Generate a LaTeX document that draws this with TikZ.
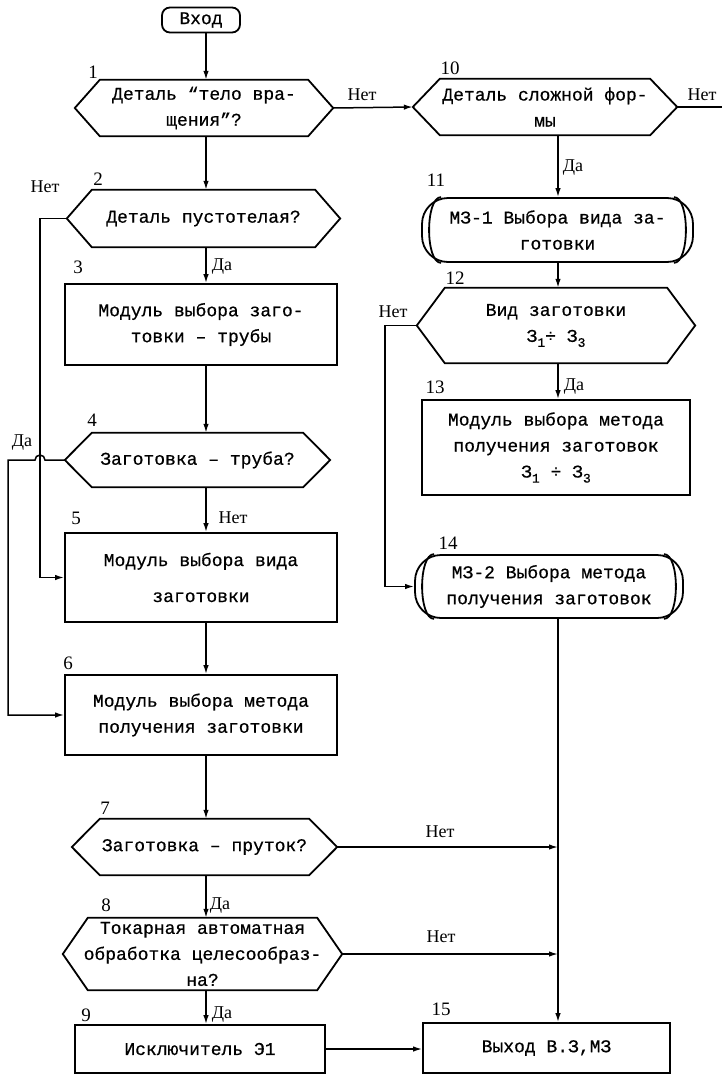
\documentclass[tikz,border=0pt]{standalone}
\usepackage{fontspec}
\setmainfont{Liberation Mono}[FakeBold=0.6]
\newfontfamily\lblfont{Liberation Serif}
\usetikzlibrary{arrows.meta}
\newcommand\bodysize{\fontsize{18}{26}\selectfont}
% lowered index after a letter
\newcommand\idx[1]{\raisebox{-5pt}{\fontsize{13}{13}\selectfont #1}}
% hexagonal decision outline around a named node
\newcommand\hexoutline[2]{%
  \draw[outline] (#1.west) -- ([xshift=#2]#1.north west) -- ([xshift=-#2]#1.north east)
    -- (#1.east) -- ([xshift=-#2]#1.south east) -- ([xshift=#2]#1.south west) -- cycle;}
% second inner side arcs of a module box
\newcommand\mzinner[1]{%
  \draw[outline] ([xshift=20pt]#1.north west) .. controls ([xshift=4pt]#1.north west) and ([xshift=4pt]#1.south west) .. ([xshift=20pt]#1.south west);
  \draw[outline] ([xshift=-20pt]#1.north east) .. controls ([xshift=-4pt]#1.north east) and ([xshift=-4pt]#1.south east) .. ([xshift=-20pt]#1.south east);}
\begin{document}
\begin{tikzpicture}[x=1pt,y=-1pt,
  outline/.style={line width=1.8pt},
  block/.style={draw, outline, rectangle, align=center, inner sep=0pt, font=\bodysize},
  decision/.style={rectangle, align=center, inner sep=0pt, font=\bodysize},
  term/.style={block, rounded corners=8pt},
  mzbox/.style={block, rounded corners=26pt},
  num/.style={inner sep=0pt, font=\lblfont\fontsize{19}{19}\selectfont},
  ans/.style={inner sep=0pt, font=\lblfont\fontsize{18}{18}\selectfont},
  conn/.style={line width=1.5pt, -{Latex[length=9pt,width=5.5pt]}},
  wire/.style={line width=1.5pt}]
\useasboundingbox (0,0) rectangle (726,1079);

% spines and side buses
\coordinate (sL) at (206,0);
\coordinate (sR) at (558,0);
\coordinate (busA) at (40,0);
\coordinate (busB) at (8,0);
\coordinate (busC) at (385,0);

% left column
\node[term, minimum width=78pt, minimum height=25pt] (entry) at (201,20) {Вход};
\node[decision, minimum width=258pt, minimum height=56pt] (n1) at (204,108) {Деталь “тело вра-\\щения”?};
\hexoutline{n1}{25pt}
\node[decision, minimum width=273pt, minimum height=57pt] (n2) at (203.5,218.5) {Деталь пустотелая?};
\hexoutline{n2}{25pt}
\node[block, minimum width=272pt, minimum height=81pt] (n3) at (201,324.5) {Модуль выбора заго-\\товки – трубы};
\node[decision, minimum width=265pt, minimum height=54pt] (n4) at (197.5,460) {Заготовка – труба?};
\hexoutline{n4}{27pt}
\node[block, minimum width=272pt, minimum height=89pt] (n5) at (201,577.5) {Модуль выбора вида\\[10pt]заготовки};
\node[block, minimum width=272pt, minimum height=80pt] (n6) at (201,715) {Модуль выбора метода\\получения заготовки};
\node[decision, minimum width=265pt, minimum height=56pt] (n7) at (204.5,847) {Заготовка – пруток?};
\hexoutline{n7}{28pt}
\node[decision, minimum width=279pt, minimum height=72pt] (n8) at (202.5,954) {Токарная автоматная\\обработка целесообраз-\\на?};
\hexoutline{n8}{25pt}
\node[block, minimum width=250pt, minimum height=48pt] (n9) at (200,1049) {Исключитель Э1};

% right column
\node[decision, minimum width=264pt, minimum height=56pt] (n10) at (545,107) {Деталь сложной фор-\\мы};
\hexoutline{n10}{27pt}
\node[mzbox, minimum width=271pt, minimum height=64pt] (n11) at (557.5,230) {МЗ-1 Выбора вида за-\\готовки};
\mzinner{n11}
\node[decision, minimum width=278pt, minimum height=75pt] (n12) at (556,325.5) {Вид заготовки\\З\idx{1}÷ З\idx{3}};
\hexoutline{n12}{28pt}
\node[block, minimum width=268pt, minimum height=95pt] (n13) at (556,447.5) {Модуль выбора метода\\получения заготовок\\З\idx{1} ÷ З\idx{3}};
\node[mzbox, minimum width=268pt, minimum height=63pt] (n14) at (549,586.5) {МЗ-2 Выбора метода\\получения заготовок};
\mzinner{n14}
\node[block, minimum width=247pt, minimum height=50pt] (n15) at (546.5,1048) {Выход В.З,МЗ};

% block numbers
\node[num] (k1) at (93,72) {1};
\node[num] (k2) at (98,179) {2};
\node[num] (k3) at (78,267) {3};
\node[num] (k4) at (92,420) {4};
\node[num] (k5) at (76,518) {5};
\node[num] (k6) at (68,663) {6};
\node[num] (k7) at (105,808) {7};
\node[num] (k8) at (106,905) {8};
\node[num] (k9) at (86,1015) {9};
\node[num] (k10) at (450,68) {10};
\node[num] (k11) at (436,180) {11};
\node[num] (k12) at (455,278) {12};
\node[num] (k13) at (435,387) {13};
\node[num] (k14) at (448,543) {14};
\node[num] (k15) at (441,1009) {15};

% main flow, left column
\draw[conn] (entry.south -| sL) -- (n1.north -| sL);
\draw[conn] (n1.south -| sL) -- (n2.north -| sL);
\draw[conn] (n2.south -| sL) -- (n3.north -| sL);
\draw[conn] (n3.south -| sL) -- (n4.north -| sL);
\draw[conn] (n4.south -| sL) -- (n5.north -| sL);
\draw[conn] (n5.south -| sL) -- (n6.north -| sL);
\draw[conn] (n6.south -| sL) -- (n7.north -| sL);
\draw[conn] (n7.south -| sL) -- (n8.north -| sL);
\draw[conn] (n8.south -| sL) -- (n9.north -| sL);
\draw[conn] (n9.east) -- (n9.east -| n15.west);

% side branches, left column
\draw[conn] (n2.west) -- (n2.west -| busA) -- (n5.west -| busA) -- (n5.west);
\draw[conn] (n4.west) -- ([xshift=5pt]n4.west -| busA)
  arc[start angle=0, end angle=180, radius=5pt] -- (n4.west -| busB)
  -- (n6.west -| busB) -- (n6.west);

% right column
\draw[conn] (n1.east) -- (n10.west);
\coordinate (exit10) at (722,107);
\draw[wire] (n10.east) -- (exit10);
\draw[conn] (n10.south -| sR) -- (n11.north -| sR);
\draw[conn] (n11.south -| sR) -- (n12.north -| sR);
\draw[conn] (n12.south -| sR) -- (n13.north -| sR);
\draw[conn] (n12.west) -- (n12.west -| busC) -- (n14.west -| busC) -- (n14.west);
\draw[conn] (n14.south -| sR) -- (n15.north -| sR);
\draw[conn] (n7.east) -- (n7.east -| sR);
\draw[conn] (n8.east) -- (n8.east -| sR);

% branch answers
\node[ans] (a1) at (362,95) {Нет};
\node[ans] (a10) at (702,95) {Нет};
\node[ans] (a10d) at (573,168) {Да};
\node[ans] (a2) at (45,187) {Нет};
\node[ans] (a2d) at (222,267) {Да};
\node[ans] (a4) at (22,443) {Да};
\node[ans] (a4n) at (233,518) {Нет};
\node[ans] (a7) at (440,832) {Нет};
\node[ans] (a7d) at (220,906) {Да};
\node[ans] (a8) at (441,937) {Нет};
\node[ans] (a8d) at (222,1015) {Да};
\node[ans] (a12) at (393,312) {Нет};
\node[ans] (a12d) at (574,387) {Да};
\end{tikzpicture}
\end{document}
